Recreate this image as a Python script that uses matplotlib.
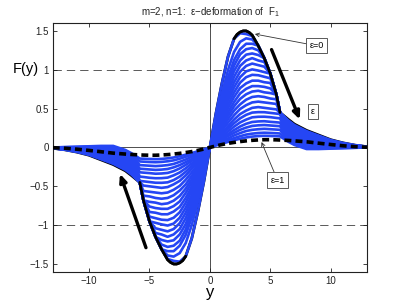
import numpy as np
import matplotlib
matplotlib.use("Agg")
import matplotlib.pyplot as plt

plt.rcParams['font.family'] = ['Liberation Sans', 'DejaVu Sans']
plt.rcParams['mathtext.fontset'] = 'custom'
plt.rcParams['mathtext.rm'] = 'Liberation Sans'
plt.rcParams['mathtext.it'] = 'Liberation Sans'
plt.rcParams['lines.scale_dashes'] = False

# ---- data (positive half, curves are odd in y) ----
Y_POS = [0, 0.5, 1, 1.5, 2, 2.5, 3, 3.5, 4, 4.5, 5, 5.5, 5.8, 6.5, 7, 8, 9, 10, 11, 12, 13]

# eps = 0 curve (finer sampling around the peak)
Y0_POS = [0, 0.5, 1, 1.5, 2, 2.25, 2.5, 2.75, 3, 3.25, 3.5, 4, 4.5, 5, 5.5, 5.8,
          6.5, 7, 8, 9, 10, 11, 12, 13]
EPS0 = [0, 0.44, 0.83, 1.17, 1.40, 1.455, 1.485, 1.50, 1.50, 1.48, 1.445, 1.31, 1.15, 0.95, 0.68, 0.45,
        0.36, 0.30, 0.22, 0.16, 0.10, 0.06, 0.03, 0.01]

EPS1 = [0, 0.02, 0.038, 0.053, 0.065, 0.076, 0.085, 0.092, 0.097, 0.1, 0.1, 0.098, 0.096,
        0.09, 0.085, 0.073, 0.055, 0.038, 0.022, 0.01, 0.003]

FAMILY = [
    [0, 0.44, 0.83, 1.17, 1.40, 1.47, 1.46, 1.435, 1.31, 1.15, 0.95, 0.68, 0.45, 0.347, 0.288, 0.210, 0.152, 0.095, 0.057, 0.029, 0.010],
    [0, 0.36, 0.70, 1.00, 1.23, 1.36, 1.405, 1.39, 1.31, 1.15, 0.95, 0.68, 0.45, 0.334, 0.276, 0.200, 0.145, 0.090, 0.054, 0.027, 0.009],
    [0, 0.325, 0.62, 0.90, 1.125, 1.265, 1.335, 1.335, 1.31, 1.15, 0.95, 0.68, 0.45, 0.321, 0.264, 0.189, 0.137, 0.086, 0.051, 0.026, 0.009],
    [0, 0.30, 0.575, 0.84, 1.055, 1.20, 1.265, 1.28, 1.25, 1.15, 0.95, 0.68, 0.45, 0.308, 0.251, 0.179, 0.130, 0.081, 0.049, 0.024, 0.008],
    [0, 0.28, 0.535, 0.78, 0.985, 1.12, 1.195, 1.21, 1.19, 1.15, 0.95, 0.68, 0.45, 0.295, 0.239, 0.169, 0.122, 0.076, 0.046, 0.023, 0.008],
    [0, 0.255, 0.495, 0.72, 0.91, 1.05, 1.12, 1.15, 1.12, 1.10, 0.95, 0.68, 0.45, 0.282, 0.227, 0.159, 0.114, 0.071, 0.043, 0.021, 0.007],
    [0, 0.235, 0.455, 0.66, 0.84, 0.975, 1.05, 1.08, 1.06, 1.04, 0.95, 0.68, 0.45, 0.269, 0.215, 0.149, 0.107, 0.067, 0.040, 0.020, 0.007],
    [0, 0.22, 0.415, 0.61, 0.775, 0.905, 0.98, 1.005, 0.99, 0.97, 0.95, 0.68, 0.45, 0.256, 0.203, 0.138, 0.099, 0.062, 0.037, 0.019, 0.007],
    [0, 0.20, 0.38, 0.555, 0.71, 0.835, 0.905, 0.935, 0.93, 0.91, 0.89, 0.68, 0.45, 0.243, 0.191, 0.128, 0.092, 0.057, 0.034, 0.017, 0.006],
    [0, 0.175, 0.345, 0.505, 0.65, 0.765, 0.825, 0.86, 0.86, 0.84, 0.83, 0.68, 0.45, 0.229, 0.178, 0.118, 0.084, 0.052, 0.031, 0.016, 0.006],
    [0, 0.16, 0.31, 0.455, 0.585, 0.695, 0.755, 0.79, 0.79, 0.78, 0.76, 0.68, 0.45, 0.217, 0.166, 0.108, 0.076, 0.047, 0.028, 0.014, 0.005],
    [0, 0.143, 0.28, 0.41, 0.53, 0.625, 0.685, 0.72, 0.73, 0.71, 0.70, 0.68, 0.45, 0.203, 0.154, 0.097, 0.069, 0.043, 0.026, 0.013, 0.005],
    [0, 0.128, 0.25, 0.365, 0.475, 0.555, 0.615, 0.65, 0.66, 0.65, 0.63, 0.62, 0.45, 0.190, 0.142, 0.087, 0.061, 0.038, 0.023, 0.011, 0.004],
    [0, 0.115, 0.22, 0.32, 0.415, 0.495, 0.545, 0.58, 0.59, 0.58, 0.57, 0.56, 0.45, 0.177, 0.129, 0.077, 0.053, 0.033, 0.020, 0.010, 0.004],
    [0, 0.098, 0.185, 0.275, 0.36, 0.43, 0.475, 0.51, 0.52, 0.51, 0.50, 0.49, 0.45, 0.164, 0.117, 0.067, 0.046, 0.028, 0.017, 0.008, 0.003],
    [0, 0.085, 0.165, 0.24, 0.313, 0.375, 0.42, 0.449, 0.455, 0.454, 0.445, 0.436, 0.43, 0.151, 0.105, 0.056, 0.038, 0.023, 0.014, 0.007, 0.003],
    [0, 0.072, 0.14, 0.205, 0.268, 0.322, 0.359, 0.388, 0.395, 0.396, 0.39, 0.38, 0.375, 0.138, 0.093, 0.046, 0.031, 0.019, 0.011, 0.006, 0.003],
    [0, 0.06, 0.117, 0.172, 0.224, 0.27, 0.305, 0.328, 0.335, 0.338, 0.33, 0.324, 0.32, 0.125, 0.081, 0.036, 0.023, 0.014, 0.008, 0.004, 0.002],
    [0, 0.051, 0.099, 0.147, 0.189, 0.227, 0.256, 0.277, 0.285, 0.289, 0.283, 0.277, 0.274, 0.112, 0.069, 0.026, 0.015, 0.009, 0.005, 0.003, 0.002],
    [0, 0.042, 0.081, 0.117, 0.155, 0.185, 0.212, 0.227, 0.235, 0.24, 0.235, 0.23, 0.227, 0.099, 0.056, 0.005, -0.003, -0.004, -0.002, -0.001, 0.001],
    [0, 0.033, 0.063, 0.092, 0.12, 0.145, 0.166, 0.178, 0.186, 0.19, 0.187, 0.183, 0.18, 0.086, 0.044, -0.01, -0.012, -0.01, -0.006, -0.003, 0.0],
    [0, 0.025, 0.049, 0.072, 0.093, 0.113, 0.129, 0.14, 0.147, 0.15, 0.148, 0.145, 0.143, 0.073, 0.032, -0.02, -0.02, -0.015, -0.01, -0.005, 0.0],
]

X_TICKS = [-10, -5, 0, 5, 10]
X_LABELS = ["\u221210", "\u22125", "0", "5", "10"]
Y_TICKS = [-1.5, -1, -0.5, 0, 0.5, 1, 1.5]
Y_LABELS = ["\u22121.5", "\u22121", "\u22120.5", "0", "0.5", "1", "1.5"]
BLACK_FROM, BLACK_TO = 2.0, 5.8

TITLE = "m=2, n=1:  \u03b5\u2212deformation of  $\\mathrm{F}_1$"


def full_y(y):
    y = np.asarray(y, float)
    return np.concatenate([-y[:0:-1], y])


def full_odd(v):
    v = np.asarray(v, float)
    return np.concatenate([-v[:0:-1], v])


yy = full_y(Y_POS)
yy0 = full_y(Y0_POS)

fig = plt.figure(figsize=(4.06, 3.05), dpi=100)
ax = fig.add_axes([0.13, 0.109, 0.774, 0.815])

# reference lines
ax.axhline(0, color='0.3', lw=0.7, zorder=1)
ax.axvline(0, color='0.3', lw=0.7, zorder=1)
for lv in (-1, 1):
    ax.axhline(lv, color='0.35', lw=0.7, ls=(0, (6, 3.6)), zorder=1)

# eps=0 (black) under the family, family in blue
f0 = full_odd(EPS0)
ax.plot(yy0, f0, color='k', lw=2.0, zorder=1.5)
for row in FAMILY:
    ax.plot(yy, full_odd(row), color='#2546f4', lw=1.9, zorder=2)
for sgn in (1, -1):
    m = (sgn * yy0 >= BLACK_FROM) & (sgn * yy0 <= BLACK_TO)
    ax.plot(yy0[m], f0[m], color='k', lw=2.0, zorder=3, solid_joinstyle='round',
            solid_capstyle='round')

# eps=1 dashed
ax.plot(yy, full_odd(EPS1), color='k', lw=2.6, ls=(0, (5, 3)), zorder=4)

ax.set_xlim(-13, 13)
ax.set_ylim(-1.6, 1.6)
ax.set_xticks(X_TICKS)
ax.set_xticklabels(X_LABELS)
ax.set_yticks(Y_TICKS)
ax.set_yticklabels(Y_LABELS)
ax.tick_params(direction='in', top=True, right=True, length=3, width=0.6,
               labelsize=7, pad=3, colors='#222222')
for sp in ax.spines.values():
    sp.set_linewidth(0.8)
    sp.set_color('#222222')

ax.set_title(TITLE, fontsize=7, pad=6, color='#222222')
fig.text(0.064, 0.774, "F(y)", fontsize=10.5, ha='center', va='center')
fig.text(0.517, 0.04, "y", fontsize=12, ha='center', va='center')

bbox = dict(boxstyle='square,pad=0.35', fc='white', ec='0.35', lw=0.7)

ax.annotate("\u03b5=0", xy=(3.72, 1.46), xytext=(8.82, 1.31), fontsize=6.5,
            ha='center', va='center', bbox=bbox, zorder=6,
            arrowprops=dict(arrowstyle='->', lw=0.6, color='0.2', shrinkA=0, shrinkB=0))
ax.annotate("\u03b5=1", xy=(4.27, 0.07), xytext=(5.59, -0.42), fontsize=6.5,
            ha='center', va='center', bbox=bbox, zorder=6,
            arrowprops=dict(arrowstyle='->', lw=0.6, color='0.2', shrinkA=0, shrinkB=0))
ax.text(8.54, 0.46, "\u03b5", fontsize=6.5, ha='center', va='center',
        bbox=dict(boxstyle='square,pad=0.35', fc='white', ec='0.35', lw=0.7), zorder=6)

# thick arrows
ax.annotate("", xy=(7.44, 0.36), xytext=(5.1, 1.26),
            arrowprops=dict(arrowstyle='-|>,head_length=0.45,head_width=0.2', lw=2.4, color='k',
                            shrinkA=0, shrinkB=0), zorder=6)
ax.annotate("", xy=(-7.44, -0.34), xytext=(-5.29, -1.29),
            arrowprops=dict(arrowstyle='-|>,head_length=0.45,head_width=0.2', lw=2.4, color='k',
                            shrinkA=0, shrinkB=0), zorder=6)

fig.savefig("out.png", dpi=100)
